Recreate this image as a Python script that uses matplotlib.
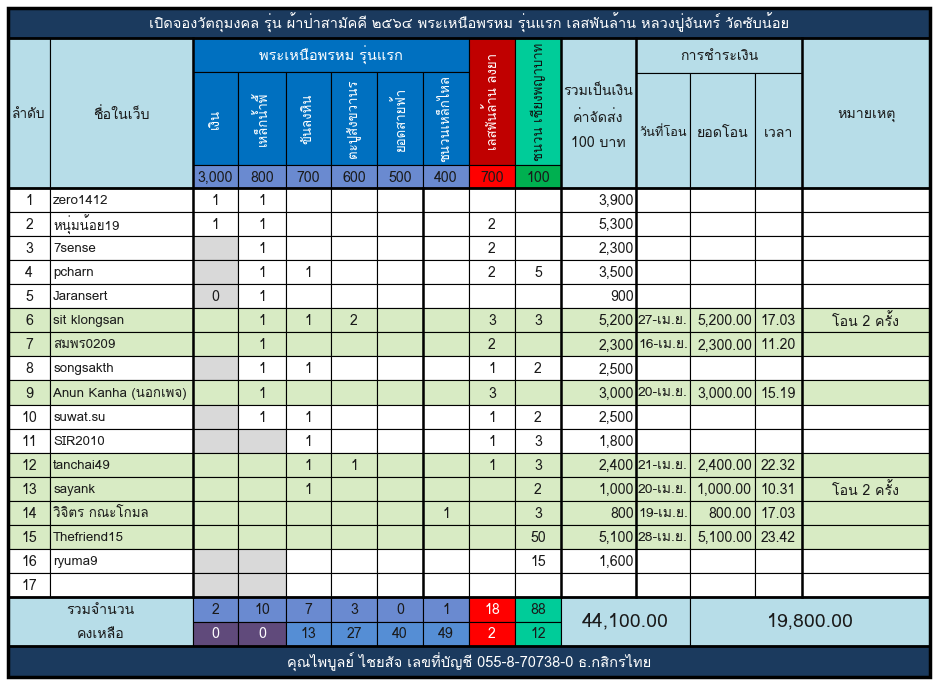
import matplotlib
matplotlib.use("Agg")
import matplotlib.pyplot as plt
from matplotlib.patches import Rectangle
from matplotlib import font_manager as fm

# ---------------- data ----------------
title = "เปิดจองวัตถุมงคล รุ่น ผ้าป่าสามัคคี ๒๕๖๔ พระเหนือพรหม รุ่นแรก เลสพันล้าน หลวงปู่จันทร์ วัดซับน้อย"
footer = "คุณไพบูลย์ ไชยสัจ เลขที่บัญชี 055-8-70738-0 ธ.กสิกรไทย"
group_title = "พระเหนือพรหม รุ่นแรก"
items = ["เงิน", "เหล็กน้ำพี้", "ขันลงหิน", "ตะปูสังขวานร", "ยอดสายฟ้า", "ชนวนเหล็กไหล",
         "เลสพันล้าน ลงยา", "ชนวน เชียงพญาบาท"]
prices = ["3,000", "800", "700", "600", "500", "400", "700", "100"]
names = ["zero1412", "หนุ่มน้อย19", "7sense", "pcharn", "Jaransert", "sit klongsan",
         "สมพร0209", "songsakth", "Anun Kanha (นอกเพจ)", "suwat.su", "SIR2010",
         "tanchai49", "sayank", "วิจิตร กณะโกมล", "Thefriend15", "ryuma9", ""]
qty = [
    ["1", "1", "", "", "", "", "", ""],
    ["1", "1", "", "", "", "", "2", ""],
    ["", "1", "", "", "", "", "2", ""],
    ["", "1", "1", "", "", "", "2", "5"],
    ["0", "1", "", "", "", "", "", ""],
    ["", "1", "1", "2", "", "", "3", "3"],
    ["", "1", "", "", "", "", "2", ""],
    ["", "1", "1", "", "", "", "1", "2"],
    ["", "1", "", "", "", "", "3", ""],
    ["", "1", "1", "", "", "", "1", "2"],
    ["", "", "1", "", "", "", "1", "3"],
    ["", "", "1", "1", "", "", "1", "3"],
    ["", "", "1", "", "", "", "", "2"],
    ["", "", "", "", "", "1", "", "3"],
    ["", "", "", "", "", "", "", "50"],
    ["", "", "", "", "", "", "", "15"],
    ["", "", "", "", "", "", "", ""],
]
totals = ["3,900", "5,300", "2,300", "3,500", "900", "5,200", "2,300", "2,500", "3,000",
          "2,500", "1,800", "2,400", "1,000", "800", "5,100", "1,600", ""]
pay_date = ["", "", "", "", "", "27-เม.ย.", "16-เม.ย.", "", "20-เม.ย.", "", "", "21-เม.ย.",
            "20-เม.ย.", "19-เม.ย.", "28-เม.ย.", "", ""]
pay_amount = ["", "", "", "", "", "5,200.00", "2,300.00", "", "3,000.00", "", "", "2,400.00",
              "1,000.00", "800.00", "5,100.00", "", ""]
pay_time = ["", "", "", "", "", "17.03", "11.20", "", "15.19", "", "", "22.32", "10.31",
            "17.03", "23.42", "", ""]
remarks = ["", "", "", "", "", "โอน 2 ครั้ง", "", "", "", "", "", "", "โอน 2 ครั้ง", "", "", "", ""]
paid_rows = [6, 7, 9, 12, 13, 14, 15]
grey_cells = [(3, 0), (4, 0), (5, 0), (8, 0), (10, 0), (11, 0), (11, 1), (16, 0), (16, 1), (17, 0), (17, 1)]
sum_label = "รวมจำนวน"
left_label = "คงเหลือ"
sum_qty = ["2", "10", "7", "3", "0", "1", "18", "88"]
left_qty = ["0", "0", "13", "27", "40", "49", "2", "12"]
grand_total = "44,100.00"
paid_total = "19,800.00"

# ---------------- fonts ----------------
installed = {f.name for f in fm.fontManager.ttflist}
fam = [f for f in ["Loma", "Garuda", "Tlwg Typo", "Noto Sans Thai"] if f in installed][:1] + ["DejaVu Sans"]
plt.rcParams['font.family'] = fam

# ---------------- layout ----------------
W, H = 940, 683
fig = plt.figure(figsize=(W / 100, H / 100), dpi=100)
ax = fig.add_axes([0, 0, 1, 1])
ax.set_xlim(0, W)
ax.set_ylim(H, 0)
ax.axis('off')

X = [8, 50, 193, 238, 286, 331, 377, 423, 469, 515, 561, 636, 690, 755, 802, 930]
NAVY = "#1B3A5E"
LBLUE = "#B7DDE8"
BLUE = "#0070C0"
PERI = "#6A8AD0"
RED_D = "#C00000"
RED = "#FF0000"
GRN_H = "#00CC99"
GRN_D = "#00B050"
ROWG = "#D8EBC4"
GREY = "#D9D9D9"
PURP = "#604A7B"
MBLUE = "#558ED5"
TXT = "#1a1a1a"
FS = 10.2


def cell(x0, x1, y0, y1, fc, lw=0.8, z=1):
    ax.add_patch(Rectangle((x0, y0), x1 - x0, y1 - y0, facecolor=fc, edgecolor="black", lw=lw, zorder=z))


def txt(x, y, s, ha="center", color=TXT, fs=FS, rot=0, **kw):
    ax.text(x, y, s, ha=ha, va="center", color=color, fontsize=fs, rotation=rot, zorder=5, **kw)


# title
cell(X[0], X[-1], 8, 38, NAVY)
txt((X[0] + X[-1]) / 2, 23, title, color="white", fs=10.5)

# header
HY0, HY1, HY2, HY3 = 38, 72, 165, 188
cell(X[0], X[1], HY0, HY3, LBLUE)
txt((X[0] + X[1]) / 2, 115, "ลำดับ", fs=9.8)
cell(X[1], X[2], HY0, HY3, LBLUE)
txt((X[1] + X[2]) / 2, 115, "ชื่อในเว็บ")
cell(X[2], X[8], HY0, HY1, BLUE)
txt((X[2] + X[8]) / 2, (HY0 + HY1) / 2, group_title, color="white", fs=10.5)
hdr_colors = [BLUE] * 6 + [RED_D, GRN_H]
price_colors = [PERI] * 6 + [RED, GRN_D]
for i in range(8):
    y0 = HY1 if i < 6 else HY0
    cell(X[2 + i], X[3 + i], y0, HY2, hdr_colors[i])
    txt((X[2 + i] + X[3 + i]) / 2, (y0 + HY2) / 2, items[i],
        color="white" if i != 7 else "#111111", rot=90, fs=9.5)
    cell(X[2 + i], X[3 + i], HY2, HY3, price_colors[i])
    txt((X[2 + i] + X[3 + i]) / 2, (HY2 + HY3) / 2 + 1, prices[i])
cell(X[10], X[11], HY0, HY3, LBLUE)
txt((X[10] + X[11]) / 2, 117, "รวมเป็นเงิน\nค่าจัดส่ง\n100 บาท", linespacing=2.0)
cell(X[11], X[14], HY0, 73, LBLUE)
txt((X[11] + X[14]) / 2, 56, "การชำระเงิน")
for i, lab in enumerate(["วันที่โอน", "ยอดโอน", "เวลา"]):
    cell(X[11 + i], X[12 + i], 73, HY3, LBLUE)
    txt((X[11 + i] + X[12 + i]) / 2, 133, lab, fs=FS if i else 9.2)
cell(X[14], X[15], HY0, HY3, LBLUE)
txt((X[14] + X[15]) / 2, 115, "หมายเหตุ")

# body
RY0, RY1 = 188, 597
rh = (RY1 - RY0) / len(names)
for r in range(len(names)):
    y0 = RY0 + r * rh
    y1 = y0 + rh
    yc = (y0 + y1) / 2 + 1
    base = ROWG if (r + 1) in paid_rows else "white"
    for c in range(len(X) - 1):
        fc = base
        if 2 <= c < 10 and (r + 1, c - 2) in grey_cells:
            fc = GREY
        cell(X[c], X[c + 1], y0, y1, fc)
    txt((X[0] + X[1]) / 2, yc, str(r + 1))
    txt(X[1] + 3, yc, names[r], ha="left", fs=9.6)
    for i in range(8):
        txt((X[2 + i] + X[3 + i]) / 2, yc, qty[r][i])
    txt(X[11] - 2, yc, totals[r], ha="right")
    txt(X[11] + 2, yc, pay_date[r], ha="left", fs=10)
    txt(X[13] - 3, yc, pay_amount[r], ha="right")
    txt((X[13] + X[14]) / 2, yc, pay_time[r])
    txt((X[14] + X[15]) / 2, yc, remarks[r])

# totals
TY0, TY1, TY2 = 597, 622, 646
cell(X[0], X[2], TY0, TY2, LBLUE)
txt((X[0] + X[2]) / 2, (TY0 + TY1) / 2, sum_label)
txt((X[0] + X[2]) / 2, (TY1 + TY2) / 2, left_label)
sum_colors = [PERI] * 6 + [RED, GRN_H]
left_colors = [PURP, PURP] + [MBLUE] * 4 + [RED, GRN_H]
for i in range(8):
    cell(X[2 + i], X[3 + i], TY0, TY1, sum_colors[i])
    txt((X[2 + i] + X[3 + i]) / 2, (TY0 + TY1) / 2, sum_qty[i],
        color="white" if i == 6 else TXT)
    cell(X[2 + i], X[3 + i], TY1, TY2, left_colors[i])
    txt((X[2 + i] + X[3 + i]) / 2, (TY1 + TY2) / 2, left_qty[i],
        color="white" if i in (0, 1, 6) else TXT)
cell(X[10], X[12], TY0, TY2, LBLUE)
txt((X[10] + X[12]) / 2, (TY0 + TY2) / 2, grand_total, fs=14)
cell(X[12], X[15], TY0, TY2, LBLUE)
txt((X[12] + X[15]) / 2, (TY0 + TY2) / 2, paid_total, fs=14)

# footer
cell(X[0], X[-1], TY2, 677, NAVY)
txt((X[0] + X[-1]) / 2, 662, footer, color="white", fs=10.5)

# thick borders
for xv in [X[2], X[10], X[11], X[14]]:
    ax.plot([xv, xv], [HY0, TY0], color="black", lw=1.8, zorder=4)
ax.plot([X[7], X[7]], [HY3, TY0], color="black", lw=1.8, zorder=4)
ax.add_patch(Rectangle((X[0], 8), X[-1] - X[0], 677 - 8, fill=False, edgecolor="black", lw=2.5, zorder=6))
for yv in [HY0, HY3, TY0, TY2]:
    ax.plot([X[0], X[-1]], [yv, yv], color="black", lw=2.0, zorder=6)

fig.savefig("out.png", dpi=100)
